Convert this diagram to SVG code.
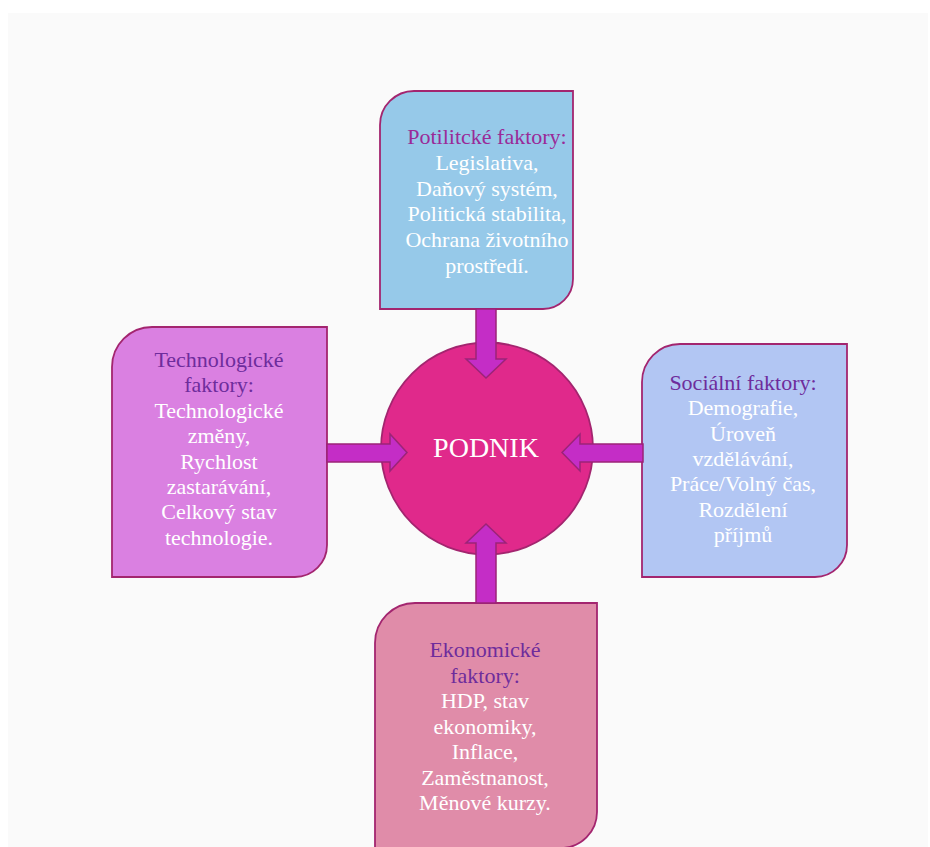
<svg xmlns="http://www.w3.org/2000/svg" width="930" height="847" viewBox="0 0 930 847">
  <style>
    .box { stroke: #a3256f; stroke-width: 1.8; }
    .arrow { fill: #c42dc6; stroke: #9c2378; stroke-width: 1.5; stroke-linejoin: miter; }
    text { font-family: "Liberation Serif", "Times New Roman", serif; font-size: 22px; text-anchor: middle; fill: #ffffff; }
    .head { fill: #6e2c9c; }
    .headTop { fill: #9a2a98; }
  </style>
  <rect width="930" height="847" fill="#ffffff"/>
  <rect x="8" y="13" width="920" height="834" fill="#fafafa"/>

  <!-- central node -->
  <g id="podnik">
    <circle cx="487" cy="448.5" r="106" fill="#e0298b" stroke="#a3256f" stroke-width="1.8"/>
    <text x="486" y="457" style="font-size:28px">PODNIK</text>
  </g>

  <!-- political factors -->
  <g id="politicke">
    <path class="box" fill="#96c9e9" d="M380,125 A34,34 0 0 1 414,91 H573 V279 A30,30 0 0 1 543,309 H380 Z"/>
    <text class="headTop" x="487" y="144">Potilitcké faktory:</text>
    <text x="487" y="169.8">Legislativa,</text>
    <text x="487" y="195.6">Daňový systém,</text>
    <text x="487" y="221.4">Politická stabilita,</text>
    <text x="487" y="247.2">Ochrana životního</text>
    <text x="487" y="273">prostředí.</text>
  </g>

  <!-- technological factors -->
  <g id="technologicke">
    <path class="box" fill="#da80e1" d="M112,367 A40,40 0 0 1 152,327 H327 V545 A32,32 0 0 1 295,577 H112 Z"/>
    <text class="head" x="219" y="367">Technologické</text>
    <text class="head" x="219" y="392.4">faktory:</text>
    <text x="219" y="417.8">Technologické</text>
    <text x="219" y="443.2">změny,</text>
    <text x="219" y="468.6">Rychlost</text>
    <text x="219" y="494">zastarávání,</text>
    <text x="219" y="519.4">Celkový stav</text>
    <text x="219" y="544.8">technologie.</text>
  </g>

  <!-- social factors -->
  <g id="socialni">
    <path class="box" fill="#b2c6f3" d="M642,382 A38,38 0 0 1 680,344 H847 V545 A32,32 0 0 1 815,577 H642 Z"/>
    <text class="head" x="743" y="390">Sociální faktory:</text>
    <text x="743" y="415.3">Demografie,</text>
    <text x="743" y="440.6">Úroveň</text>
    <text x="743" y="465.9">vzdělávání,</text>
    <text x="743" y="491.2">Práce/Volný čas,</text>
    <text x="743" y="516.5">Rozdělení</text>
    <text x="743" y="541.8">příjmů</text>
  </g>

  <!-- economic factors -->
  <g id="ekonomicke">
    <path class="box" fill="#e08ca9" d="M375,643 A40,40 0 0 1 415,603 H597 V812 A36,36 0 0 1 561,848 H375 Z"/>
    <text class="head" x="485" y="657">Ekonomické</text>
    <text class="head" x="485" y="682.5">faktory:</text>
    <text x="485" y="708">HDP, stav</text>
    <text x="485" y="733.5">ekonomiky,</text>
    <text x="485" y="759">Inflace,</text>
    <text x="485" y="784.5">Zaměstnanost,</text>
    <text x="485" y="810">Měnové kurzy.</text>
  </g>

  <!-- block arrows pointing into the centre -->
  <g id="connectors">
    <polygon class="arrow" points="476,309 496,309 496,359 506,359 486,378 466,359 476,359"/>
    <polygon class="arrow" points="327,444 390,444 390,434 407,452.5 390,471 390,462 327,462"/>
    <polygon class="arrow" points="643,444 580,444 580,434 562,452.5 580,471 580,462 643,462"/>
    <polygon class="arrow" points="476,603 476,543 466,543 486,524 506,543 496,543 496,603"/>
  </g>
</svg>
